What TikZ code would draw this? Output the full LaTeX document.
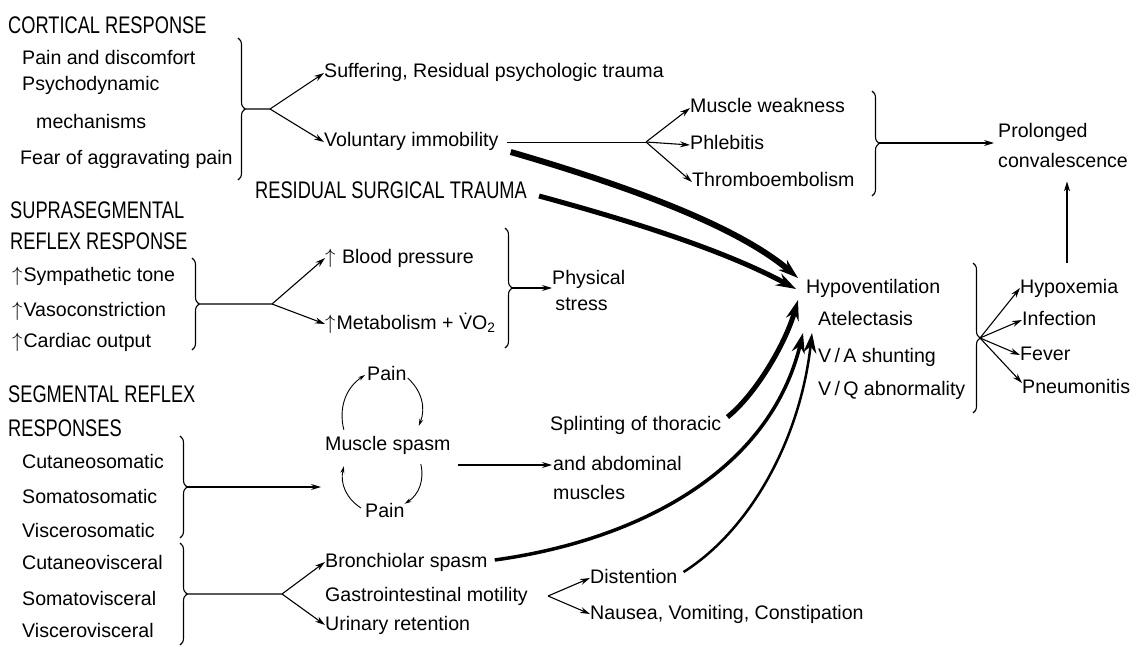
\documentclass[tikz,border=0pt]{standalone}
\usepackage{fontspec}
\setmainfont{Liberation Sans}
\newfontfamily\headfont[FakeStretch=0.76]{Liberation Sans}
\usetikzlibrary{arrows.meta,decorations.pathreplacing}
\newcommand{\incr}{$\uparrow$\kern1pt}

\begin{document}
\begin{tikzpicture}[x=1pt,y=-1pt,
	font=\fontsize{19.6}{30}\selectfont,
	txt/.style={anchor=west,inner sep=0pt,text height=14pt,text depth=4pt},
	txtb/.style={anchor=west,inner sep=0pt,align=left},
	head/.style={txt,text height=17pt,font=\headfont\fontsize{24}{30}\selectfont},
	arr/.style={-{Stealth[length=10pt,width=6pt]},line width=1.1pt},
	cyc/.style={-{Stealth[length=7pt,width=4pt]},line width=0.9pt},
	heavy/.style={-{Stealth[length=20pt,width=13pt]},line width=#1},
	brc/.style={decorate,decoration={brace,amplitude=7pt},line width=1.1pt}]
	\useasboundingbox (0,0) rectangle (1137,647);

	\node[head] (cort) at (8,27) {CORTICAL RESPONSE};
	\node[txt] (pain) at (22,60) {Pain and discomfort};
	\node[txt] (psych) at (22,86) {Psychodynamic};
	\node[txt] (mech) at (36,124) {mechanisms};
	\node[txt] (fear) at (20,160) {Fear of aggravating pain};
	\coordinate (b1t) at (238,38);
	\coordinate (b1b) at (238,180);
	\coordinate (b1m) at (245,109);
	\coordinate (k1) at (270,109);
	\draw[brc] (b1t) -- (b1b);
	\node[txt] (suff) at (324,73) {Suffering, Residual psychologic trauma};
	\node[txt] (vol) at (324,142) {Voluntary immobility};
	\draw[arr] (b1m) -- (k1) -- (suff.west);
	\draw[arr] (k1) -- (vol.west);

	\node[txt] (weak) at (690,108) {Muscle weakness};
	\node[txt] (phleb) at (690,145) {Phlebitis};
	\node[txt] (thromb) at (692,182) {Thromboembolism};
	\coordinate (k2) at (646,142);
	\draw ([xshift=8pt]vol.east) -- (k2);
	\draw[arr] (k2) -- (weak.west);
	\draw[arr] (k2) -- (phleb.west);
	\draw[arr] (k2) -- (thromb.west);
	\coordinate (b2t) at (872,91);
	\coordinate (b2b) at (872,196);
	\coordinate (b2m) at (879,143);
	\draw[brc] (b2t) -- (b2b);
	\node[txtb] (prol) at (998,145) {Prolonged\\convalescence};
	\draw[arr,shorten >=4pt] (b2m) -- (b2m -| prol.west);

	\node[head] (trauma) at (255,192) {RESIDUAL SURGICAL TRAUMA};

	\node[head] (supra) at (10,212) {SUPRASEGMENTAL};
	\node[head] (reflex) at (10,243) {REFLEX RESPONSE};
	\node[txt] (symp) at (12,276) {\incr Sympathetic tone};
	\node[txt] (vaso) at (12,311) {\incr Vasoconstriction};
	\node[txt] (cardiac) at (12,342) {\incr Cardiac output};
	\coordinate (b4t) at (192,258);
	\coordinate (b4b) at (192,350);
	\coordinate (b4m) at (199,304);
	\coordinate (k4) at (272,304);
	\draw[brc] (b4t) -- (b4b);
	\node[txt] (bp) at (325,258) {\incr\ Blood pressure};
	\node[txt] (metab) at (325,324) {\incr Metabolism + \.{V}O\textsubscript{2}};
	\draw[arr] (b4m) -- (k4) -- (bp.west);
	\draw[arr] (k4) -- (metab.west);
	\coordinate (b5t) at (505,228);
	\coordinate (b5b) at (505,348);
	\coordinate (b5m) at (512,288);
	\draw[brc] (b5t) -- (b5b);
	\node[txtb] (phys) at (552,290) {Physical\\[-4pt]\,stress};
	\draw[arr] (b5m) -- (b5m -| phys.west);

	\node[txt] (hypo) at (806,288) {Hypoventilation};
	\node[txt] (atel) at (818,320) {Atelectasis};
	\node[txt] (vash) at (818,357) {V\,/\,A shunting};
	\node[txt] (vqab) at (818,390) {V\,/\,Q abnormality};
	\coordinate (b3t) at (973,263);
	\coordinate (b3b) at (973,413);
	\coordinate (b3m) at (980,338);
	\draw[brc] (b3t) -- (b3b);
	\node[txt] (hypox) at (1020,288) {Hypoxemia};
	\node[txt] (infect) at (1022,320) {Infection};
	\node[txt] (fever) at (1020,355) {Fever};
	\node[txt] (pneum) at (1022,388) {Pneumonitis};
	\draw[arr] (b3m) -- (hypox.west);
	\draw[arr] (b3m) -- (infect.west);
	\draw[arr] (b3m) -- (fever.west);
	\draw[arr] (b3m) -- ([yshift=5pt]pneum.west);
	\coordinate (vb) at (1067,263);
	\draw[arr,shorten >=14pt] (vb) -- (vb |- prol.south);

	\node[head] (seg) at (8,396) {SEGMENTAL REFLEX};
	\node[head] (resp) at (8,430) {RESPONSES};
	\node[txt] (cutso) at (22,463) {Cutaneosomatic};
	\node[txt] (somso) at (22,498) {Somatosomatic};
	\node[txt] (visso) at (22,532) {Viscerosomatic};
	\node[txt] (cutvi) at (22,564) {Cutaneovisceral};
	\node[txt] (somvi) at (22,600) {Somatovisceral};
	\node[txt] (visvi) at (22,632) {Viscerovisceral};
	\coordinate (b6t) at (180,436);
	\coordinate (b6b) at (180,538);
	\coordinate (b6m) at (187,487);
	\draw[brc] (b6t) -- (b6b);
	\coordinate (b7t) at (180,543);
	\coordinate (b7b) at (180,645);
	\coordinate (b7m) at (187,594);
	\coordinate (k7) at (282,594);
	\draw[brc] (b7t) -- (b7b);

	\node[txt] (ptop) at (367,375) {Pain};
	\node[txt] (ms) at (325,445) {Muscle spasm};
	\node[txt] (pbot) at (365,512) {Pain};
	\draw[arr] (b6m) -- ([xshift=-4pt]b6m -| ms.west);
	\draw[cyc] ([xshift=-44pt,yshift=6pt]ms.north) to[bend left=35] ([xshift=-2pt]ptop.west);
	\draw[cyc] ([xshift=1pt,yshift=-3pt]ptop.east) to[bend left=35] ([xshift=31pt,yshift=10pt]ms.north);
	\draw[cyc] ([xshift=33pt,yshift=-10pt]ms.south) to[bend left=35] ([yshift=-1pt]pbot.north east);
	\draw[cyc] ([xshift=-4pt,yshift=4pt]pbot.west) to[bend left=35] ([xshift=-44pt,yshift=-12pt]ms.south);

	\node[txt] (spl1) at (550,425) {Splinting of thoracic};
	\node[txt] (spl2) at (553,465) {and abdominal};
	\node[txt] (spl3) at (553,494) {muscles};
	\draw[arr] ([xshift=7pt]ms.east |- spl2.west) -- ([xshift=-1pt]spl2.west);

	\node[txt] (bron) at (325,562) {Bronchiolar spasm};
	\node[txt] (gi) at (325,596) {Gastrointestinal motility};
	\node[txt] (uri) at (325,625) {Urinary retention};
	\draw[arr] (b7m) -- (k7) -- (bron.west);
	\draw[arr] (k7) -- (uri.west);
	\node[txt] (dist) at (590,578) {Distention};
	\node[txt] (naus) at (590,614) {Nausea, Vomiting, Constipation};
	\coordinate (k8) at (548,596);
	\draw[arr] (k8) -- (dist.west);
	\draw[arr] (k8) -- (naus.west);

	\draw[heavy=6pt] ([xshift=12pt,yshift=-10pt]vol.east) .. controls (600,178) and (730,220) .. ([xshift=-8pt,yshift=10pt]hypo.west);
	\draw[heavy=5pt] ([xshift=12pt,yshift=-4pt]trauma.east) .. controls (620,218) and (720,248) .. ([xshift=-10pt,yshift=-1pt]hypo.west);
	\draw[heavy=5pt] ([xshift=6pt,yshift=8pt]spl1.east) .. controls (755,395) and (785,345) .. ([xshift=-8pt,yshift=-12pt]hypo.west);
	\draw[heavy=3.5pt] ([xshift=7pt,yshift=2pt]bron.east) .. controls (640,540) and (770,470) .. ([xshift=-15pt,yshift=-13pt]atel.west);
	\draw[heavy=2.5pt] ([xshift=6pt,yshift=6pt]dist.east) .. controls (750,530) and (800,440) .. ([xshift=-6pt,yshift=-13pt]atel.west);
\end{tikzpicture}
\end{document}
